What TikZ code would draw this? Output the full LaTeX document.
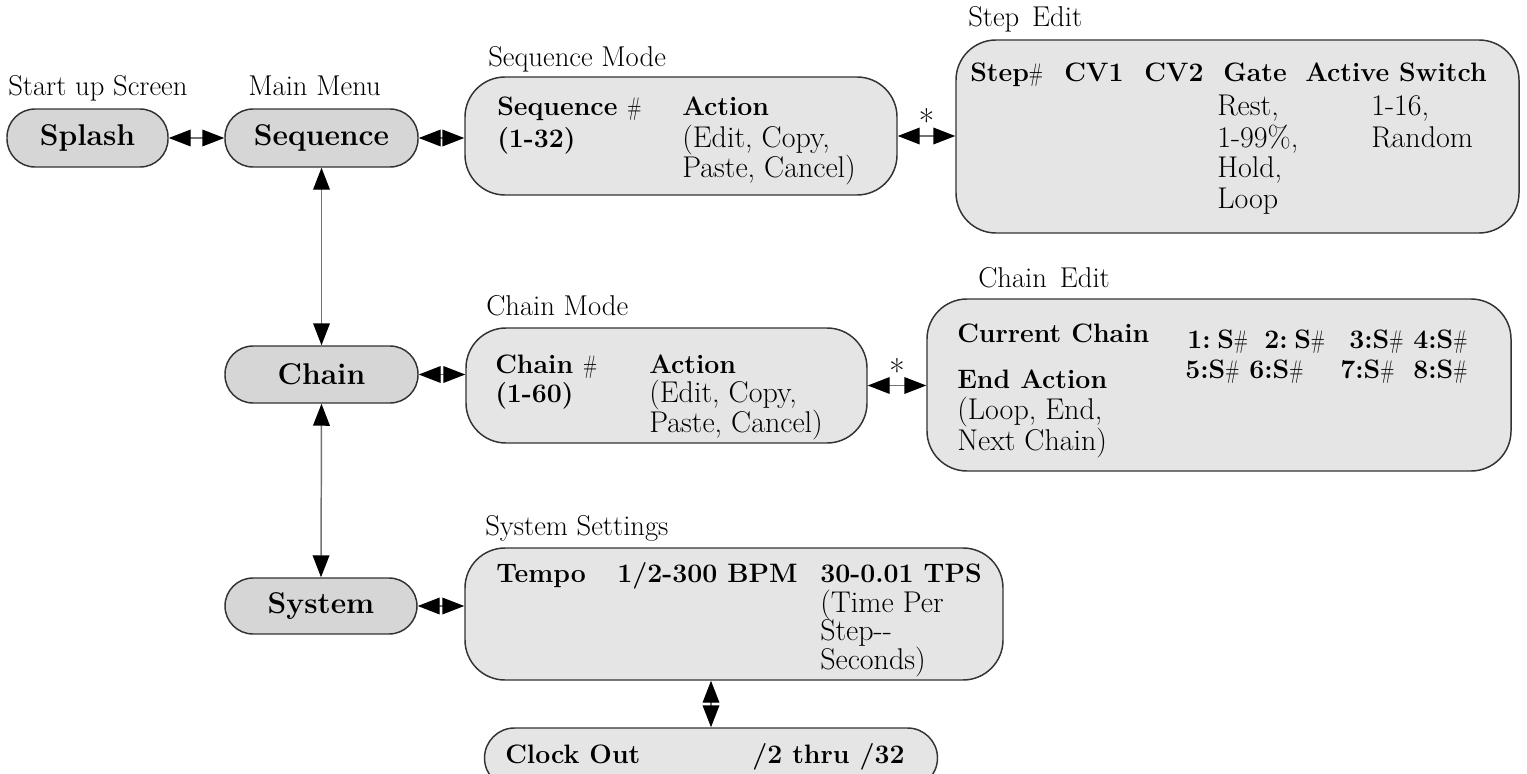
\documentclass[tikz,border=0pt]{standalone}
\usepackage{amsmath,amssymb}
\usepackage{xcolor}
\usepackage{graphicx}
\usepackage{tikz}
\usetikzlibrary{positioning,arrows.meta}

\newcommand{\hsh}{{\mdseries\fontsize{19}{19}\selectfont\scalebox{0.72}[1]{\#}}}

\tikzset{
	menu/.style={draw=black!80, line width=1.1pt, fill=black!16, rounded corners=21pt, inner sep=0pt, font=\fontsize{22.5}{27}\selectfont\bfseries},
	panel/.style={draw=black!80, line width=1.1pt, fill=black!10, rounded corners=30pt, inner sep=0pt},
	caption/.style={anchor=base west, inner sep=0pt, font=\fontsize{21.5}{25}\selectfont},
	entry/.style={anchor=base west, inner sep=0pt, font=\fontsize{22.5}{27}\selectfont},
	head/.style={anchor=base west, inner sep=0pt, font=\fontsize{20}{24}\selectfont\bfseries},
	link/.style={draw=black!55, line width=1.1pt, {Triangle[length=16.5pt,width=12.5pt,color=black]}-{Triangle[length=16.5pt,width=12.5pt,color=black]}},
	starlbl/.style={inner sep=0pt, above=1pt, font=\fontsize{25}{28}\selectfont}
}

\begin{document}
\begin{tikzpicture}[x=0.75pt,y=0.75pt,yscale=-1,xscale=1]
\useasboundingbox (0,0) rectangle (1527,774);

%Shape: menu items
\node[menu, minimum width=120.75pt, minimum height=43.5pt] (splash) at (87.5,138) {Splash};
\node[menu, minimum width=144.75pt, minimum height=43.5pt] (seq) at (321.5,138) {Sequence};
\node[menu, minimum width=144.75pt, minimum height=42.75pt] (chain) at (321.5,374.5) {Chain};
\node[menu, minimum width=144pt, minimum height=42pt] (sys) at (321,606) {System};
\node[menu, fill=black!10, rounded corners=22.5pt, minimum width=339.75pt, minimum height=45pt] (clock) at (711,758) {};

%Shape: screens
\node[panel, minimum width=324pt, minimum height=88.5pt] (seqmode) at (681,136) {};
\node[panel, minimum width=422.25pt, minimum height=144.75pt] (stepedit) at (1237.5,136.5) {};
\node[panel, minimum width=300.75pt, minimum height=86.25pt] (chainmode) at (666.5,385.5) {};
\node[panel, minimum width=438pt, minimum height=129pt] (chainedit) at (1219,385) {};
\node[panel, minimum width=403.5pt, minimum height=99pt] (sysset) at (734,614) {};

%Connectors
\draw[link] (splash.east) -- (seq.west);
\draw[link] (seq.east) -- (seq.east -| seqmode.west);
\draw[link] (seqmode.east) -- node[starlbl] {*} (seqmode.east -| stepedit.west);
\draw[link] (seq.south) -- (chain.north);
\draw[link] (chain.east) -- (chain.east -| chainmode.west);
\draw[link] (chainmode.east) -- node[starlbl] {*} (chainmode.east -| chainedit.west);
\draw[link] (chain.south) -- (sys.north);
\draw[link] (sys.east) -- (sys.east -| sysset.west);
\draw[link] (sysset.south -| clock.north) -- (clock.north);

% Text Node
\node[caption] (startlbl) at (8,95) {Start up Screen};
\node[caption] (mainlbl) at (248,95) {Main Menu};
\node[caption] (seqmodelbl) at (488,67) {Sequence Mode};
\node[caption] (steplbl) at (968,27) {Step\hspace{0.45em}Edit};
\node[caption] (chainmodelbl) at (486,315) {Chain Mode};
\node[caption] (chainlbl) at (978,287) {Chain\hspace{0.45em}Edit};
\node[caption] (syslbl) at (485,535) {System Settings};

% Text Node
\node[head] (seqnum) at (497,115) {Sequence \hsh};
\node[head] (seqrange) at (497,147) {(1-32)};
\node[head] (seqact) at (682,115) {Action};
\node[entry] (seqopt) at (682,147) {(Edit, Copy,};
\node[entry] (seqopt2) at (682,177) {Paste, Cancel)};

% Text Node
\node[head] (stepnum) at (970,82) {Step\hsh};
\node[head] (cvone) at (1064,82) {CV1};
\node[head] (cvtwo) at (1144,82) {CV2};
\node[head] (gate) at (1223,82) {Gate};
\node[head] (active) at (1305,82) {Active Switch};
\node[entry] (gate1) at (1217,115) {Rest,};
\node[entry] (gate2) at (1217,147) {1-99\%,};
\node[entry] (gate3) at (1217,177) {Hold,};
\node[entry] (gate4) at (1217,208) {Loop};
\node[entry] (active1) at (1371,115) {1-16,};
\node[entry] (active2) at (1371,147) {Random};

% Text Node
\node[head] (chainnum) at (495,373) {Chain \hsh};
\node[head] (chainrange) at (495,402) {(1-60)};
\node[head] (chainact) at (649,373) {Action};
\node[entry] (chainopt) at (649,402) {(Edit, Copy,};
\node[entry] (chainopt2) at (649,432) {Paste, Cancel)};

% Text Node
\node[head] (curchain) at (957,342) {Current Chain};
\node[head] (endact) at (957,388) {End Action};
\node[entry] (endopt) at (957,419) {(Loop, End,};
\node[entry] (endopt2) at (957,450) {Next Chain)};
\node[head] (slot1) at (1187,348) {1:\hspace{0.25em}S\hsh};
\node[head] (slot2) at (1264,348) {2:\hspace{0.25em}S\hsh};
\node[head] (slot3) at (1349,348) {3:S\hsh};
\node[head] (slot4) at (1413,348) {4:S\hsh};
\node[head] (slot5) at (1185,378) {5:S\hsh};
\node[head] (slot6) at (1249,378) {6:S\hsh};
\node[head] (slot7) at (1340,378) {7:S\hsh};
\node[head] (slot8) at (1413,378) {8:S\hsh};

% Text Node
\node[head] (tempo) at (496,582) {Tempo};
\node[head] (bpm) at (617,582) {1/2-300 BPM};
\node[head] (tps) at (820,582) {30-0.01 TPS};
\node[entry] (tps1) at (820,612) {(Time Per};
\node[entry] (tps2) at (820,640) {Step-{}-};
\node[entry] (tps3) at (820,669) {Seconds)};

% Text Node
\node[head] (clocklbl) at (505,763) {Clock Out};
\node[head] (clockdiv) at (752,763) {/2 thru /32};

\end{tikzpicture}
\end{document}
